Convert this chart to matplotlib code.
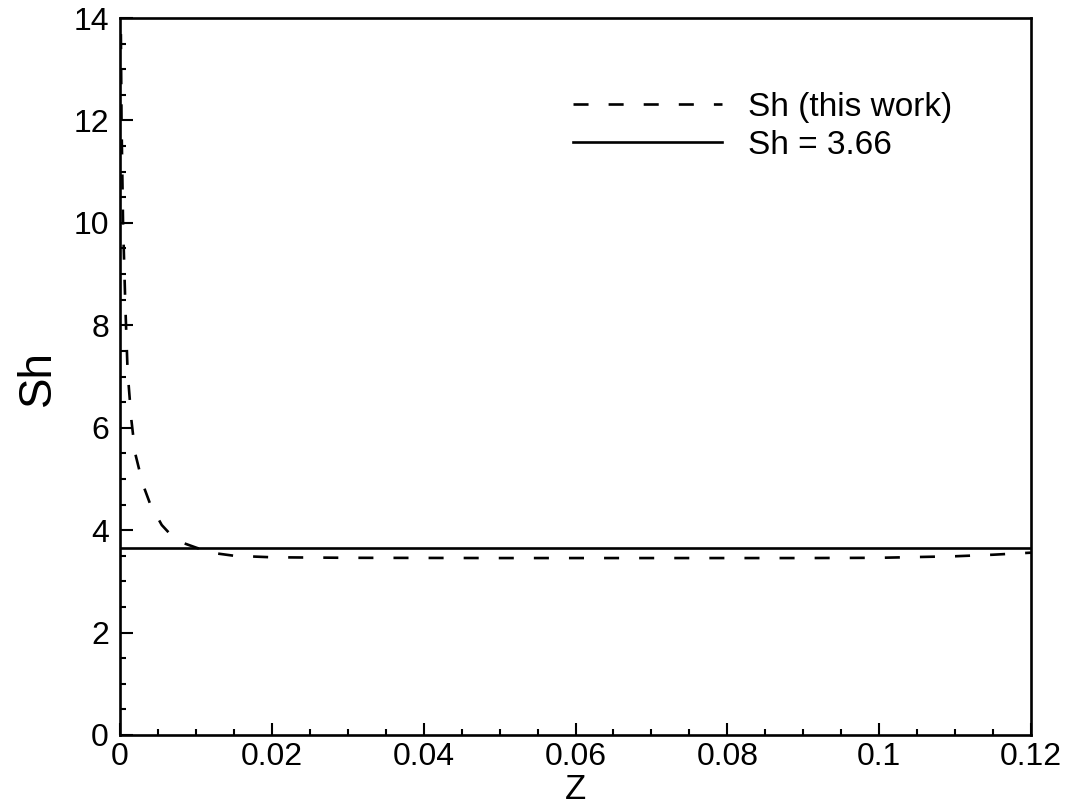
import matplotlib
matplotlib.use("Agg")
import matplotlib.pyplot as plt
from matplotlib.ticker import MultipleLocator, FuncFormatter

plt.rcParams['font.family'] = ['Liberation Sans', 'DejaVu Sans']

z = [0.00005, 0.0001, 0.0002, 0.0004, 0.0007, 0.001, 0.0015, 0.002, 0.003, 0.004,
     0.0055, 0.007, 0.0085, 0.01, 0.012, 0.015, 0.02, 0.03, 0.05, 0.07, 0.09,
     0.1, 0.11, 0.115, 0.12]
sh = [16.0, 14.0, 12.0, 10.0, 8.4, 7.1, 6.15, 5.5, 4.9, 4.5,
      4.1, 3.86, 3.74, 3.66, 3.56, 3.5, 3.47, 3.46, 3.455, 3.455, 3.455,
      3.46, 3.49, 3.52, 3.56]
sh_ref = 3.66
labels = ['Sh (this work)', 'Sh = 3.66']
xticks = [0, 0.02, 0.04, 0.06, 0.08, 0.1, 0.12]
yticks = [0, 2, 4, 6, 8, 10, 12, 14]

fig = plt.figure(figsize=(10.68, 8.06), dpi=100)
ax = fig.add_axes([120/1068, 1-735/806, (1031-120)/1068, (735-18)/806])

ax.plot(z, sh, color='black', lw=1.9, linestyle=(0, (5.7, 7.6)), label=labels[0])
ax.axhline(sh_ref, color='black', lw=1.9, label=labels[1])

ax.set_xlim(0, 0.12)
ax.set_ylim(0, 14)
ax.set_xticks(xticks)
ax.set_yticks(yticks)
ax.xaxis.set_minor_locator(MultipleLocator(0.005))
ax.yaxis.set_minor_locator(MultipleLocator(0.5))
ax.xaxis.set_major_formatter(FuncFormatter(lambda v, p: ('%g' % round(v, 4))))
ax.tick_params(which='both', direction='in', top=False, right=False, labelsize=23, width=1.5)
ax.tick_params(which='major', length=9)
ax.tick_params(which='minor', length=4.5)
ax.tick_params(axis='x', pad=5)
ax.tick_params(axis='y', pad=8)
for s in ax.spines.values():
    s.set_linewidth(1.9)

ax.set_xlabel('Z', fontsize=25)
ax.xaxis.set_label_coords(0.5, -0.053)
ax.set_ylabel('Sh', fontsize=33)
ax.yaxis.set_label_coords(-0.066, 0.4986)

ax.legend(loc='upper left', bbox_to_anchor=(0.497, 0.897), frameon=False, fontsize=24,
          handlelength=4.47, handletextpad=0.78, labelspacing=0.21, borderaxespad=0,
          borderpad=0)

fig.savefig('out.png', dpi=100)
